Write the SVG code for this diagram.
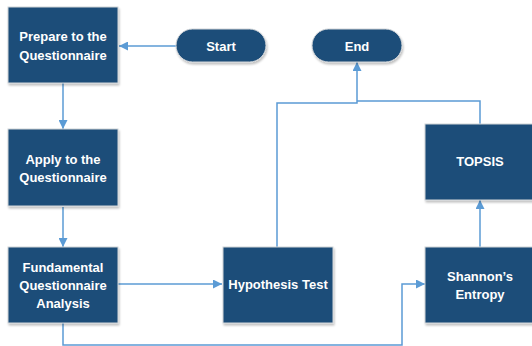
<svg xmlns="http://www.w3.org/2000/svg" width="532" height="346" viewBox="0 0 532 346">
  <style>
    .box { fill: #1F4E79; stroke: #D0D4D8; stroke-width: 1; filter: url(#shadow); }
    .lbl { font-family: "Liberation Sans", Arial, sans-serif; font-weight: bold; font-size: 13px; fill: #FFFFFF; text-anchor: middle; }
    .edge { fill: none; stroke: #5B9BD5; stroke-width: 1.5; }
  </style>
  <defs>
    <filter id="shadow" x="-10%" y="-10%" width="125%" height="130%">
      <feGaussianBlur in="SourceAlpha" stdDeviation="1.2"/>
      <feOffset dx="0.5" dy="1.5" result="b"/>
      <feComponentTransfer><feFuncA type="linear" slope="0.25"/></feComponentTransfer>
      <feMerge><feMergeNode/><feMergeNode in="SourceGraphic"/></feMerge>
    </filter>
    <marker id="arrow" viewBox="0 0 10 10" refX="10" refY="5" markerWidth="6" markerHeight="6" markerUnits="strokeWidth" orient="auto">
      <path d="M0,0 L10,5 L0,10 Z" fill="#5B9BD5"/>
    </marker>
  </defs>
  <rect width="532" height="346" fill="#FFFFFF"/>

  <g id="connectors">
    <path class="edge" d="M176,46 H119" marker-end="url(#arrow)"/>
    <path class="edge" d="M63,83 V129" marker-end="url(#arrow)"/>
    <path class="edge" d="M63,207 V247" marker-end="url(#arrow)"/>
    <path class="edge" d="M118,284 H222" marker-end="url(#arrow)"/>
    <path class="edge" d="M63,323 V345 H402 V284 H425" marker-end="url(#arrow)"/>
    <path class="edge" d="M480,247 V200" marker-end="url(#arrow)"/>
    <path class="edge" d="M277,247 V103 H357 V62" marker-end="url(#arrow)"/>
    <path class="edge" d="M480,124 V101 H357"/>
  </g>

  <g id="start">
    <rect class="box" x="176" y="29" width="90" height="33" rx="16.5"/>
    <text class="lbl" x="221" y="50.5">Start</text>
  </g>
  <g id="end">
    <rect class="box" x="312" y="29" width="90" height="33" rx="16.5"/>
    <text class="lbl" x="357" y="50.5">End</text>
  </g>
  <g id="prepare">
    <rect class="box" x="8" y="7" width="110" height="76"/>
    <text class="lbl" x="63" y="41">Prepare to the</text>
    <text class="lbl" x="63" y="60">Questionnaire</text>
  </g>
  <g id="apply">
    <rect class="box" x="8" y="129" width="110" height="77"/>
    <text class="lbl" x="63" y="163.5">Apply to the</text>
    <text class="lbl" x="63" y="182">Questionnaire</text>
  </g>
  <g id="fundamental">
    <rect class="box" x="8" y="247" width="110" height="76"/>
    <text class="lbl" x="63" y="272">Fundamental</text>
    <text class="lbl" x="63" y="290">Questionnaire</text>
    <text class="lbl" x="63" y="308">Analysis</text>
  </g>
  <g id="hypothesis">
    <rect class="box" x="223" y="247" width="110" height="76"/>
    <text class="lbl" x="278" y="289">Hypothesis Test</text>
  </g>
  <g id="topsis">
    <rect class="box" x="425" y="124" width="110" height="76"/>
    <text class="lbl" x="480" y="166">TOPSIS</text>
  </g>
  <g id="shannon">
    <rect class="box" x="425" y="247" width="110" height="76"/>
    <text class="lbl" x="480" y="281">Shannon’s</text>
    <text class="lbl" x="480" y="299">Entropy</text>
  </g>
</svg>
